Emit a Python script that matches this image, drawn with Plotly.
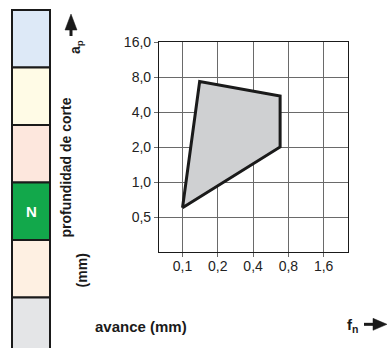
import math
import plotly.graph_objects as go

# cutting range polygon: feed f_n (mm) vs depth of cut a_p (mm)
feed = [0.1, 0.14, 0.68, 0.68, 0.1]
depth = [0.6, 7.3, 5.5, 2.0, 0.6]

x_ticks = [0.1, 0.2, 0.4, 0.8, 1.6]
x_labels = ["0,1", "0,2", "0,4", "0,8", "1,6"]
y_ticks = [0.5, 1, 2, 4, 8, 16]
y_labels = ["0,5", "1,0", "2,0", "4,0", "8,0", "16,0"]

# material group strip, top to bottom
strip_colors = ["#dde9f7", "#fffbe6", "#fde7dd", "#12a84b", "#fef0e2", "#e4e5e7"]
strip_labels = ["", "", "", "N", "", ""]

# plot area in pixels
L, R, T, B = 159, 348, 42, 252.5


def px(x):
    return (x - L) / (R - L)


def py(y):
    return (B - y) / (B - T)


def path(points):
    return "M " + " L ".join(f"{px(x):.4f},{py(y):.4f}" for x, y in points) + " Z"


FONT = "Liberation Sans, Arial, sans-serif"
GRID = "#6a6a6a"
INK = "#1a1a1a"

fig = go.Figure()
fig.add_trace(
    go.Scatter(
        x=feed,
        y=depth,
        mode="lines",
        fill="toself",
        fillcolor="#cfd0d2",
        line=dict(color=INK, width=3),
        showlegend=False,
        hoverinfo="skip",
    )
)

axis_common = dict(
    type="log",
    showgrid=True,
    gridcolor=GRID,
    gridwidth=1.2,
    showline=True,
    linecolor=INK,
    linewidth=1.2,
    mirror=True,
    ticks="outside",
    ticklen=4,
    tickcolor=GRID,
    zeroline=False,
    tickfont=dict(family=FONT, size=14, color="#222"),
)
fig.update_xaxes(
    range=[math.log10(0.063), math.log10(2.58)],
    tickvals=x_ticks,
    ticktext=x_labels,
    ticklabelstandoff=-3,
    **axis_common,
)
fig.update_yaxes(
    range=[math.log10(0.25), math.log10(16)],
    tickvals=y_ticks,
    ticktext=y_labels,
    **axis_common,
)

# colour strip on the left
top, step = 10, 57.6
for i, (c, lab) in enumerate(zip(strip_colors, strip_labels)):
    y0 = top + i * step
    y1 = y0 + step if i < len(strip_colors) - 1 else 360
    fig.add_shape(
        type="rect", xref="paper", yref="paper",
        x0=px(12), x1=px(50), y0=py(y1), y1=py(y0),
        fillcolor=c, line=dict(color=INK, width=2),
    )
    if lab:
        fig.add_annotation(
            x=px(31), y=py(y0 + step / 2), xref="paper", yref="paper",
            text=f"<b>{lab}</b>", showarrow=False,
            xanchor="center", yanchor="middle",
            font=dict(family=FONT, size=15, color="white"),
        )

# arrows next to a_p and f_n
fig.add_shape(type="line", xref="paper", yref="paper",
              x0=px(71), x1=px(71), y0=py(36), y1=py(26),
              line=dict(color=INK, width=3))
fig.add_shape(type="path", xref="paper", yref="paper",
              path=path([(65, 30), (77, 30), (71, 14)]),
              fillcolor=INK, line=dict(color=INK, width=0.5))
fig.add_shape(type="line", xref="paper", yref="paper",
              x0=px(364), x1=px(376), y0=py(325), y1=py(325),
              line=dict(color=INK, width=3))
fig.add_shape(type="path", xref="paper", yref="paper",
              path=path([(373, 319), (373, 331), (387, 325)]),
              fillcolor=INK, line=dict(color=INK, width=0.5))

label_font = dict(family=FONT, size=14, color=INK)
fig.add_annotation(
    x=px(66), y=py(240), xref="paper", yref="paper",
    text="<b>profundidad de corte</b>", textangle=-90, showarrow=False,
    xanchor="center", yanchor="bottom", font=label_font,
)
fig.add_annotation(
    x=px(82), y=py(290), xref="paper", yref="paper",
    text="<b>(mm)</b>", textangle=-90, showarrow=False,
    xanchor="center", yanchor="bottom", font=label_font,
)
fig.add_annotation(
    x=px(76), y=py(47), xref="paper", yref="paper",
    text="<b>a<sub>p</sub></b>", textangle=-90, showarrow=False,
    xanchor="center", yanchor="middle", font=label_font,
)
fig.add_annotation(
    x=px(93), y=py(327), xref="paper", yref="paper",
    text="<b>avance (mm)</b>", showarrow=False,
    xanchor="left", yanchor="middle",
    font=dict(family=FONT, size=15, color=INK),
)
fig.add_annotation(
    x=px(345), y=py(326), xref="paper", yref="paper",
    text="<b>f<sub>n</sub></b>", showarrow=False,
    xanchor="left", yanchor="middle",
    font=dict(family=FONT, size=15, color=INK),
)

fig.update_layout(
    width=387,
    height=348,
    margin=dict(l=L, r=387 - R, t=T, b=348 - B),
    plot_bgcolor="white",
    paper_bgcolor="white",
    showlegend=False,
)

fig.write_html(
    "out.html",
    config={"displayModeBar": False},
    post_script="document.body.style.margin='0';",
)
